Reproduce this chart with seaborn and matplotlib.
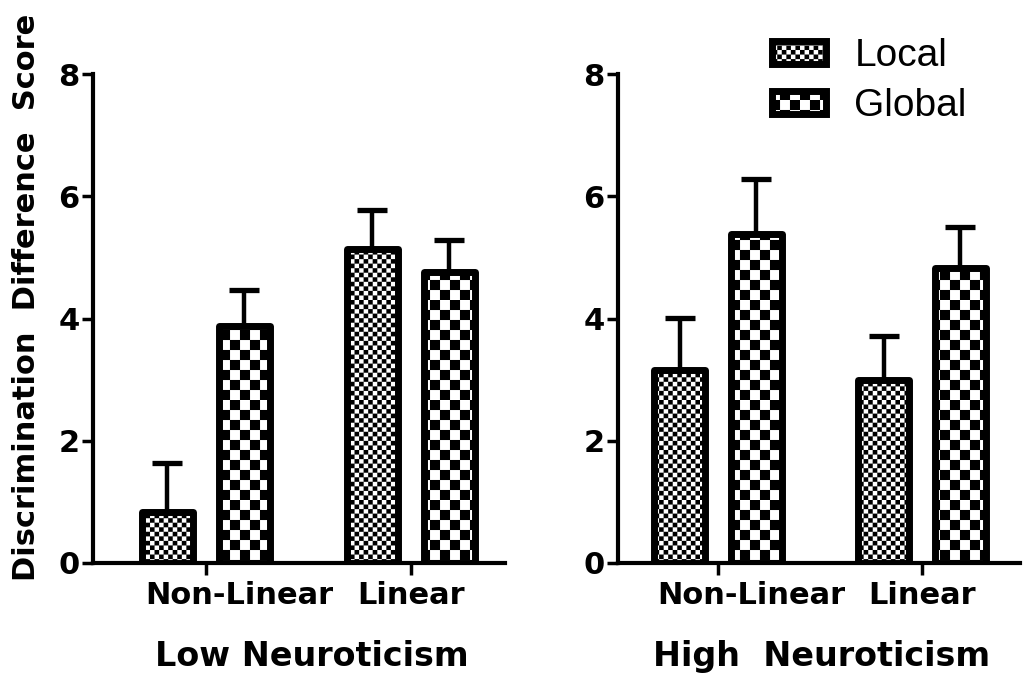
import numpy as np
import pandas as pd
import matplotlib
matplotlib.use("Agg")
import matplotlib.pyplot as plt
import matplotlib.hatch as mhatch
import matplotlib.transforms as mtrans
from matplotlib.path import Path
import seaborn as sns

# ---------------- data ----------------
categories = ["Non-Linear", "Linear"]
series = ["Local", "Global"]

low_local = [0.84, 5.13]
low_local_err = [0.80, 0.65]
low_global = [3.87, 4.76]
low_global_err = [0.60, 0.53]

high_local = [3.15, 3.00]
high_local_err = [0.86, 0.72]
high_global = [5.39, 4.82]
high_global_err = [0.89, 0.68]

y_ticks = [0, 2, 4, 6, 8]
panel_titles = ["Low Neuroticism", "High  Neuroticism"]
y_label = "Discrimination  Difference  Score"


# ---------------- checkerboard hatches ----------------
class _Checker(mhatch.HatchPatternBase):
    CH = "."
    N = 22

    def __init__(self, hatch, density):
        self.n = self.N if (hatch and self.CH in hatch) else 0
        self.num_vertices = (self.n * self.n // 2) * 5

    def set_vertices_and_codes(self, vertices, codes):
        n = self.n
        s = 1.0 / n
        k = 0
        for i in range(n):
            for j in range(n):
                if (i + j) % 2 == 0:
                    x0, y0 = i * s, j * s
                    vertices[k:k + 5] = [[x0, y0], [x0 + s, y0], [x0 + s, y0 + s],
                                         [x0, y0 + s], [x0, y0]]
                    codes[k:k + 5] = [Path.MOVETO, Path.LINETO, Path.LINETO,
                                      Path.LINETO, Path.CLOSEPOLY]
                    k += 5


class FineChecker(_Checker):
    CH = "."
    N = 22


class CoarseChecker(_Checker):
    CH = "o"
    N = 10


mhatch._hatch_types = [FineChecker, CoarseChecker]
hatches = {"Local": ".", "Global": "o"}

# ---------------- style ----------------
sns.set_style("ticks")
plt.rcParams["font.family"] = ["DejaVu Sans"]
plt.rcParams["hatch.linewidth"] = 0.05
plt.rcParams["hatch.color"] = "black"
for k in ["text.color", "axes.labelcolor", "xtick.color", "ytick.color", "axes.edgecolor"]:
    plt.rcParams[k] = "black"

W, H = 1023, 677
fig = plt.figure(figsize=(W / 100, H / 100), dpi=100)


def px_axes(left, right, top, bottom):
    return fig.add_axes([left / W, 1 - bottom / H, (right - left) / W, (bottom - top) / H])


ax1 = px_axes(93, 505, 74, 563)
ax2 = px_axes(618, 1020, 74, 563)

panels = [
    (ax1, low_local, low_local_err, low_global, low_global_err, (-0.551, 1.46), 0.532, panel_titles[0]),
    (ax2, high_local, high_local_err, high_global, high_global_err, (-0.49, 1.48), 0.507, panel_titles[1]),
]

for ax, loc, loc_e, glo, glo_e, xlim, xl_x, title in panels:
    df = pd.DataFrame({
        "Condition": categories * 2,
        "Type": [series[0]] * len(categories) + [series[1]] * len(categories),
        "Score": list(loc) + list(glo),
    })
    errs = {series[0]: loc_e, series[1]: glo_e}
    sns.barplot(data=df, x="Condition", y="Score", hue="Type",
                order=categories, hue_order=series, width=0.75, gap=0.333,
                errorbar=None, palette=["white", "white"], edgecolor="black",
                linewidth=5, legend=False, ax=ax, zorder=3)
    for cont, s in zip(ax.containers, series):
        xs, ys = [], []
        for bar in cont:
            bar.set_hatch(hatches[s])
            bar.set_joinstyle("round")
            bar.set_label(s)
            xs.append(bar.get_x() + bar.get_width() / 2)
            ys.append(bar.get_height())
        e = errs[s]
        ax.errorbar(xs, ys, yerr=[np.zeros(len(e)), e], fmt="none", ecolor="black",
                    elinewidth=3.2, capsize=11, capthick=3.8, zorder=2)

    ax.set_xlim(*xlim)
    ax.set_ylim(0, 8)
    ax.set_yticks(y_ticks)
    ax.set_yticklabels([str(t) for t in y_ticks])
    for sp in ["top", "right"]:
        ax.spines[sp].set_visible(False)
    for sp in ["left", "bottom"]:
        ax.spines[sp].set_linewidth(3)
        ax.spines[sp].set_capstyle("projecting")
    ax.tick_params(axis="y", length=8, width=2.5, pad=1.5, labelsize=22, colors="black")
    ax.tick_params(axis="x", length=8.6, width=2.5, pad=4.5, labelsize=22, colors="black")
    for lab in ax.get_xticklabels() + ax.get_yticklabels():
        lab.set_fontweight("bold")
    # shift the first category label to the right as in the reference
    xt = ax.get_xticklabels()
    xt[0].set_transform(xt[0].get_transform() + mtrans.ScaledTranslation(0.33, 0, fig.dpi_scale_trans))
    ax.set_xlabel(title, fontsize=24, fontweight="bold", color="black")
    ax.xaxis.set_label_coords(xl_x, -0.158)
    ax.set_ylabel("")

fig.text(27 / W, 1 - 297 / H, y_label, rotation=90, ha="center", va="center",
         fontsize=22, fontweight="bold", color="black")

handles = [ax2.containers[0][0], ax2.containers[1][0]]
leg = ax2.legend(handles=handles, labels=series, loc="upper left",
                 bbox_to_anchor=(772 / W, 1 - 38 / H), bbox_transform=fig.transFigure,
                 frameon=False, borderpad=0, borderaxespad=0,
                 prop={"family": "Liberation Sans", "size": 28},
                 handlelength=1.39, handleheight=0.52, handletextpad=0.73,
                 labelspacing=0.36)
for t in leg.get_texts():
    t.set_color("black")

fig.savefig("out.png", dpi=100)
